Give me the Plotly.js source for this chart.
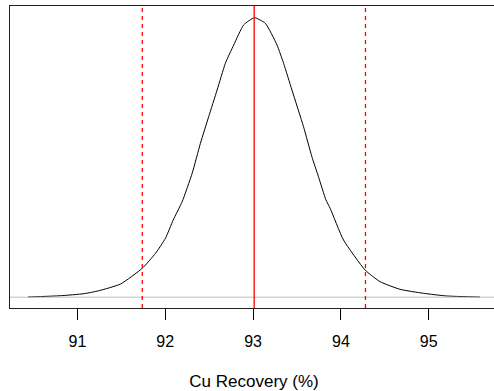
<!DOCTYPE html>
<html>
<head>
<meta charset="utf-8">
<script src="https://cdn.plot.ly/plotly-3.0.1.min.js"></script>
<style>
html, body { margin: 0; padding: 0; overflow: hidden; background: #fff; }
#chart { width: 500px; height: 391px; }
</style>
</head>
<body>
<div id="chart"></div>
<script>
// Density curve of Cu recovery (%)
const recovery = [90.439, 90.81, 91.075, 91.245, 91.492, 91.739, 91.89, 92.003, 92.091,
  92.193, 92.307, 92.401, 92.495, 92.591, 92.685, 92.78, 92.893, 93.015,
  93.14, 93.273, 93.348, 93.443, 93.575, 93.67, 93.745, 93.83, 93.878,
  94.03, 94.276, 94.447, 94.674, 94.939, 95.205, 95.583];
const density = [0.0004, 0.0033, 0.0078, 0.0144, 0.0293, 0.0642, 0.0975, 0.1308, 0.1714,
  0.212, 0.2751, 0.3417, 0.4007, 0.46, 0.5193, 0.5599, 0.6043, 0.6205,
  0.6081, 0.5599, 0.5193, 0.46, 0.3785, 0.3119, 0.2675, 0.2159, 0.1974,
  0.127, 0.0604, 0.0344, 0.0175, 0.0087, 0.0027, 0.0004];
const meanVal = 93.013;
const ciLow = 91.739;
const ciHigh = 94.28;
const tickVals = [91, 92, 93, 94, 95];
const tickText = ['91', '92', '93', '94', '95'];
const xLabel = 'Cu Recovery (%)';

const trace = {
  x: recovery, y: density, type: 'scatter', mode: 'lines',
  line: { color: '#000000', width: 1, shape: 'spline', smoothing: 0.5 },
  hoverinfo: 'skip', showlegend: false
};

function vline(x, dash, w) {
  return { type: 'line', xref: 'x', yref: 'paper', x0: x, x1: x, y0: 0, y1: 1,
    line: { color: '#ff0000', width: w, dash: dash }, layer: 'above' };
}

const layout = {
  width: 500, height: 391,
  margin: { l: 10, r: 2, t: 6, b: 83 },
  paper_bgcolor: '#ffffff', plot_bgcolor: '#ffffff',
  font: { family: 'Liberation Sans, Arial, sans-serif', color: '#000000', size: 16 },
  showlegend: false,
  xaxis: {
    range: [90.233, 95.789], tickmode: 'array', tickvals: tickVals, ticktext: tickText,
    ticks: 'outside', ticklen: 11, tickwidth: 1, tickcolor: '#000000',
    ticklabelstandoff: 8,
    showline: true, mirror: true, linecolor: '#222222', linewidth: 1,
    showgrid: false, zeroline: false,
    tickfont: { size: 16 },
    title: { text: xLabel, font: { size: 17 }, standoff: 28 }
  },
  yaxis: {
    range: [-0.02398, 0.6465], showticklabels: false, ticks: '',
    showline: true, mirror: true, linecolor: '#222222', linewidth: 1,
    showgrid: false, zeroline: false
  },
  shapes: [
    { type: 'line', xref: 'paper', yref: 'y', x0: 0, x1: 1, y0: 0, y1: 0,
      line: { color: '#bebebe', width: 1 }, layer: 'above' },
    vline(meanVal, 'solid', 1.3),
    vline(ciLow, '4px,4px', 1.3),
    vline(ciHigh, '4px,4px', 1.3)
  ]
};

Plotly.newPlot('chart', [trace], layout, { staticPlot: true, displayModeBar: false });
</script>
</body>
</html>
